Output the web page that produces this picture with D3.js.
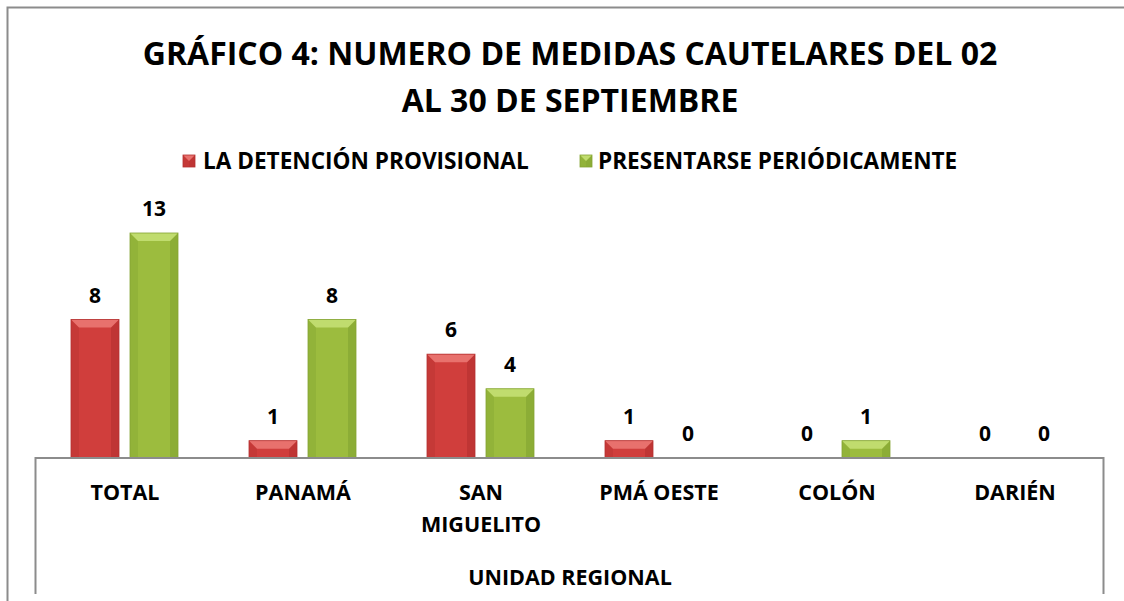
<!DOCTYPE html>
<html><head><meta charset="utf-8">
<script src="https://cdn.jsdelivr.net/npm/d3@7"></script>
<style>body{margin:0;background:#fff}text{font-family:'Open Sans',Lato,sans-serif;font-weight:bold;fill:#000}</style>
</head><body>
<svg id="c" width="1124" height="601"></svg>
<script>
const titleLines = ["GRÁFICO 4: NUMERO DE MEDIDAS CAUTELARES DEL 02", "AL 30 DE SEPTIEMBRE"];
const categories = [["TOTAL"], ["PANAMÁ"], ["SAN", "MIGUELITO"], ["PMÁ OESTE"], ["COLÓN"], ["DARIÉN"]];
const seriesNames = ["LA DETENCIÓN PROVISIONAL", "PRESENTARSE PERIÓDICAMENTE"];
const detencion = [8, 1, 6, 1, 0, 0];
const presentarse = [13, 8, 4, 0, 1, 0];
const axisTitle = "UNIDAD REGIONAL";

const colors = [
  {main:"#D03E3C", top:"#E8716D", side:"#B53130"},
  {main:"#9CBC3E", top:"#C0DC6E", side:"#84A433"}
];
const svg = d3.select("#c");
// outer border
svg.append("path").attr("d","M7.5,601 V7.5 H1124").attr("fill","none").attr("stroke","#8c8c8c").attr("stroke-width",2);

const x0 = d3.scaleBand().domain(d3.range(categories.length)).range([36,1104]);
const x1 = d3.scaleBand().domain([0,1]).range([35,142]).paddingInner(11/59);
const y = d3.scaleLinear().domain([0,13]).range([458,233]);

// title
svg.append("g").selectAll("text").data(titleLines).join("text")
  .attr("x",570).attr("y",(d,i)=>65+i*47).attr("text-anchor","middle")
  .style("font-size","32px").text(d=>d);

function bevelBar(g, x, yTop, w, h, c){
  if(h<=0) return;
  const b = Math.min(8, h/2, w/2);
  g.append("rect").attr("x",x).attr("y",yTop).attr("width",w).attr("height",h).attr("fill",c.main);
  g.append("path").attr("d",`M${x},${yTop}L${x+b},${yTop+b}L${x+b},${yTop+h}L${x},${yTop+h}Z`).attr("fill",c.side).attr("opacity",0.4);
  g.append("path").attr("d",`M${x+w},${yTop}L${x+w-b},${yTop+b}L${x+w-b},${yTop+h}L${x+w},${yTop+h}Z`).attr("fill",c.side).attr("opacity",0.65);
  g.append("path").attr("d",`M${x},${yTop}L${x+w},${yTop}L${x+w-b},${yTop+b}L${x+b},${yTop+b}Z`).attr("fill",c.top);
  g.append("rect").attr("x",x).attr("y",yTop).attr("width",w).attr("height",h).attr("fill","none").attr("stroke",c.side).attr("stroke-width",0.8);
}

// legend
const legend = [{x:183, tx:203},{x:580, tx:598}];
seriesNames.forEach((n,i)=>{
  const g = svg.append("g");
  bevelBar(g, legend[i].x, 155, 12, 12, colors[i]);
  g.append("text").attr("x",legend[i].tx).attr("y",169).style("font-size","22.6px").text(n);
});

// bars
const data = [detencion, presentarse];
const gb = svg.append("g");
data.forEach((vals,s)=>{
  vals.forEach((v,i)=>{
    const bx = x0(i)+x1(s), bw = x1.bandwidth();
    bevelBar(gb, bx, y(v), bw, y(0)-y(v), colors[s]);
    gb.append("text").attr("x",bx+bw/2).attr("y",y(v)-17).attr("text-anchor","middle")
      .style("font-size","21px").text(v);
  });
});

// axis box
svg.append("path").attr("d",`M35.5,594 V${y(0)} H1103.5 V594`).attr("fill","none").attr("stroke","#8c8c8c").attr("stroke-width",2);

// category labels
const gc = svg.append("g");
categories.forEach((lines,i)=>{
  lines.forEach((l,j)=>{
    gc.append("text").attr("x",x0(i)+x0.bandwidth()/2).attr("y",500+j*32).attr("text-anchor","middle")
      .style("font-size","21.5px").text(l);
  });
});
svg.append("text").attr("x",570).attr("y",585).attr("text-anchor","middle").style("font-size","21.5px").text(axisTitle);
</script>
</body></html>
